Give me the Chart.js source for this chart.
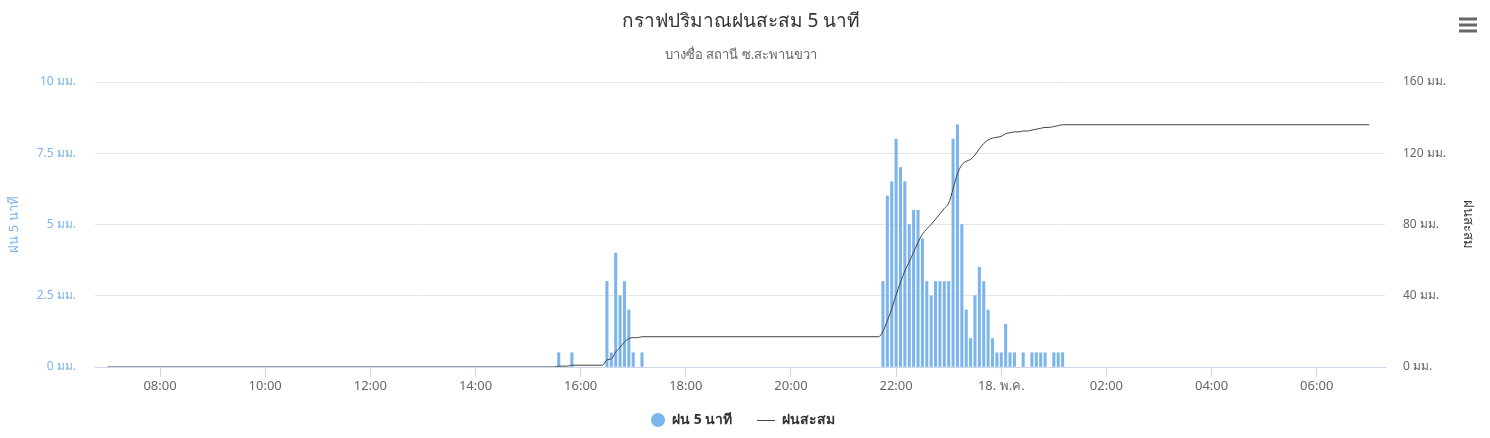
<!DOCTYPE html>
<html>
<head>
<meta charset="utf-8">
<script src="https://cdn.jsdelivr.net/npm/chart.js@4.4.0/dist/chart.umd.min.js"></script>
<style>
body{margin:0;background:#fff;}
#wrap{width:1490px;height:438px;position:relative;}
</style>
</head>
<body>
<div id="wrap"><canvas id="rainChart"></canvas></div>
<script>
// ข้อมูลฝน 5 นาที (เฉพาะช่วงที่มีฝน) 17-18 พ.ค.
const rainTimes = ["15:35","15:50","16:30","16:35","16:40","16:45","16:50","16:55","17:00","17:10",
  "21:45","21:50","21:55","22:00","22:05","22:10","22:15","22:20","22:25","22:30","22:35","22:40",
  "22:45","22:50","22:55","23:00","23:05","23:10","23:15","23:20","23:25","23:30","23:35","23:40",
  "23:45","23:50","23:55","00:00","00:05","00:10","00:15","00:25","00:35","00:40","00:45","00:50",
  "01:00","01:05","01:10"];
const rainValues = [0.5,0.5,3,0.5,4,2.5,3,2,0.5,0.5,
  3,6,6.5,8,7,6.5,5,5.5,5.5,4.5,3,2.5,
  3,3,3,3,8,8.5,5,2,1,2.5,3.5,3,
  2,1,0.5,0.5,1.5,0.5,0.5,0.5,0.5,0.5,0.5,0.5,
  0.5,0.5,0.5];

// ฝนสะสม
const cumTimes = ["07:00","15:30","15:35","15:45","15:50","16:25","16:30","16:35","16:40","16:45",
  "16:50","16:55","17:00","17:05","17:10","21:40","21:45","21:50","21:55","22:00","22:05","22:10",
  "22:15","22:20","22:25","22:30","22:35","22:40","22:45","22:50","22:55","23:00","23:05","23:10",
  "23:15","23:20","23:25","23:30","23:35","23:40","23:45","23:50","23:55","00:00","00:05","00:10",
  "00:15","00:20","00:25","00:30","00:35","00:40","00:45","00:50","00:55","01:00","01:05","01:10","07:00"];
const cumValues = [0,0,0.5,0.5,1,1,4,4.5,8.5,11,
  14,16,16.5,16.5,17,17,20,26,32.5,40.5,47.5,54,
  59,64.5,70,74.5,77.5,80,83,86,89,92,100,108.5,
  113.5,115.5,116.5,119,122.5,125.5,127.5,128.5,129,129.5,131,131.5,
  132,132,132.5,132.5,133,133.5,134,134.5,134.5,135,135.5,136,136];

const tickLabels = ["08:00","10:00","12:00","14:00","16:00","18:00","20:00","22:00","18. พ.ค.","02:00","04:00","06:00"];

const FONT = '"Noto Sans", "DejaVu Sans", sans-serif';

// แปลงเวลาเป็นนาทีนับจาก 07:00 (ข้ามเที่ยงคืนได้)
function toMinutes(list){
  let day = 0, prev = -1;
  return list.map(t=>{
    const [h,m] = t.split(":").map(Number);
    const v = h*60+m;
    if(prev>=0 && v<prev) day++;
    prev = v;
    return v + day*1440 - 420;
  });
}
const rainX = toMinutes(rainTimes);
const cumX = toMinutes(cumTimes);
const tickPos = tickLabels.map((_,i)=>60+i*120);

const overlay = {
  id:"overlay",
  afterDraw(chart){
    const c = chart.ctx;
    c.save();
    c.textAlign = "center";
    c.textBaseline = "middle";
    c.fillStyle = "#333333";
    c.font = "19px " + FONT;
    c.fillText("กราฟปริมาณฝนสะสม 5 นาที", 741, 22);
    c.fillStyle = "#666666";
    c.font = "13px " + FONT;
    c.fillText("บางซื่อ สถานี ซ.สะพานขวา", 741, 55);

    // menu icon
    c.fillStyle = "#666666";
    [19,25,31].forEach(y=>c.fillRect(1459, y-1.5, 18, 3));

    // legend
    const ds = chart.data.datasets;
    c.textAlign = "left";
    c.font = "bold 14px " + FONT;
    c.fillStyle = "#7cb5ec";
    c.beginPath(); c.arc(658, 420, 7, 0, Math.PI*2); c.fill();
    c.fillStyle = "#333333";
    c.fillText(ds[0].label, 672, 420);
    c.strokeStyle = "#434348";
    c.lineWidth = 1;
    c.beginPath(); c.moveTo(757, 420.5); c.lineTo(775, 420.5); c.stroke();
    c.fillText(ds[1].label, 782, 420);
    c.restore();
  }
};

new Chart(document.getElementById("rainChart"), {
  type: "bar",
  data: {
    datasets: [
      {
        label: "ฝน 5 นาที",
        type: "bar",
        data: rainX.map((x,i)=>({x:x, y:rainValues[i]})),
        yAxisID: "y",
        backgroundColor: "#7cb5ec",
        barThickness: 2.4,
        order: 2
      },
      {
        label: "ฝนสะสม",
        type: "line",
        data: cumX.map((x,i)=>({x:x, y:cumValues[i]})),
        yAxisID: "y1",
        borderColor: "#434348",
        borderWidth: 1,
        pointRadius: 0,
        cubicInterpolationMode: "monotone",
        order: 1
      }
    ]
  },
  options: {
    responsive: true,
    maintainAspectRatio: false,
    animation: false,
    layout: { padding: { top: 82, left: 0, right: 0, bottom: 0 } },
    plugins: { legend: { display: false }, title: { display: false }, tooltip: { enabled: false } },
    scales: {
      x: {
        type: "linear",
        min: -14.2,
        max: 1457.9,
        offset: false,
        afterBuildTicks(scale){ scale.ticks = tickPos.map(v=>({value:v})); },
        afterFit(scale){ scale.height = 71; },
        grid: { offset: false, drawOnChartArea: false, drawTicks: true, tickLength: 10, color: "#ccd6eb" },
        border: { color: "#ccd6eb", width: 1 },
        ticks: {
          autoSkip: false, maxRotation: 0, padding: 1, color: "#666666",
          font: { family: FONT, size: 13 },
          callback: (v, i) => tickLabels[i]
        }
      },
      y: {
        position: "left",
        min: 0, max: 10,
        afterBuildTicks(scale){ scale.ticks = [0,2.5,5,7.5,10].map(v=>({value:v})); },
        afterFit(scale){ scale.width = 95; },
        grid: { color: "#e6e6e6", drawTicks: false },
        border: { display: false },
        ticks: { padding: 19, color: "#7cb5ec", font: { family: FONT, size: 12 }, callback: v => v + " มม." },
        title: { display: true, text: "ฝน 5 นาที", color: "#7cb5ec", font: { family: FONT, size: 13 }, padding: { top: 6, bottom: 0 } }
      },
      y1: {
        position: "right",
        min: 0, max: 160,
        afterBuildTicks(scale){ scale.ticks = [0,40,80,120,160].map(v=>({value:v})); },
        afterFit(scale){ scale.width = 105; },
        grid: { display: false, drawTicks: false },
        border: { display: false },
        ticks: { padding: 18, color: "#666666", font: { family: FONT, size: 12 }, callback: v => v + " มม." },
        title: { display: true, text: "ฝนสะสม", color: "#333333", font: { family: FONT, size: 13 }, padding: { top: 14, bottom: 0 } }
      }
    }
  },
  plugins: [overlay]
});
</script>
</body>
</html>
